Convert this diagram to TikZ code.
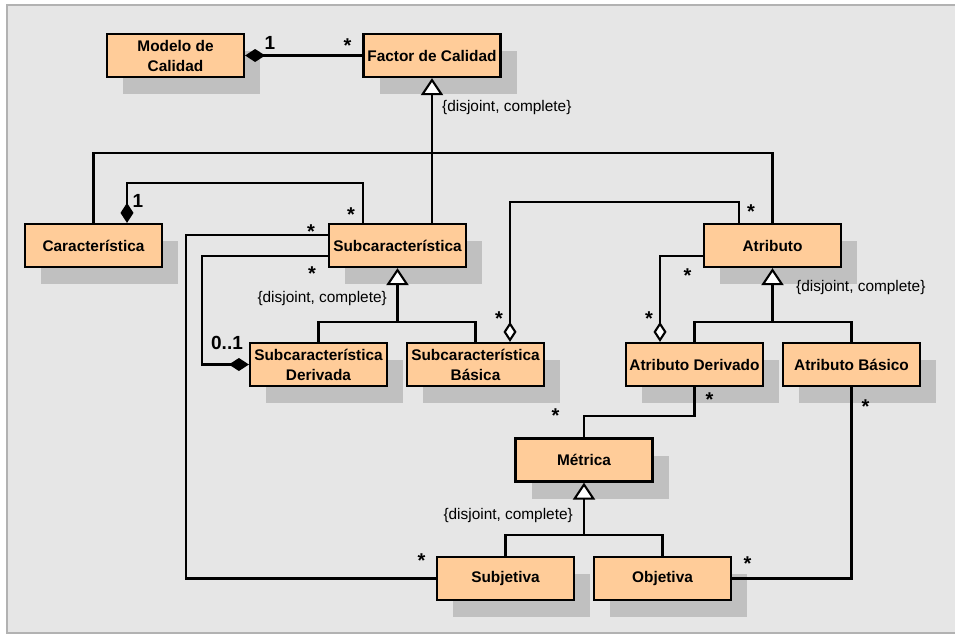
\documentclass[tikz,border=0pt]{standalone}
\usepackage{fontspec}
\setmainfont{Liberation Sans}
\usetikzlibrary{arrows.meta,shadows}

\definecolor{canvasgray}{RGB}{230,230,230}
\definecolor{framegray}{RGB}{178,178,178}
\definecolor{shadowgray}{RGB}{192,192,192}
\definecolor{classfill}{RGB}{255,204,153}

\tikzset{
  cls/.style={draw=black, line width=2.2pt, fill=classfill,
    minimum width=137pt, minimum height=43pt, inner sep=0pt,
    align=center, font=\bfseries\fontsize{15.4}{20}\selectfont,
    drop shadow={shadow xshift=16pt, shadow yshift=-17pt,
      fill=shadowgray, opacity=1}},
  assoc/.style={line width=2.1pt, black},
  compos/.style={assoc, {Diamond[length=20pt,width=13pt,fill=black]}-},
  compend/.style={assoc, -{Diamond[length=20pt,width=13pt,fill=black]}},
  aggend/.style={assoc, -{Diamond[length=20pt,width=13pt,fill=white]}},
  genarrow/.style={assoc, -{Triangle[length=17pt,width=22pt,fill=white]}},
  mult/.style={font=\bfseries\fontsize{20}{20}\selectfont, anchor=base, inner sep=0pt},
  multnum/.style={font=\bfseries\fontsize{19}{19}\selectfont, anchor=base, inner sep=0pt},
  constraint/.style={font=\fontsize{15.4}{18}\selectfont, inner sep=0pt},
}

\begin{document}
\begin{tikzpicture}[x=1pt, y=-1pt]
  \useasboundingbox (0,0) rectangle (955,635);
  % canvas
  \fill[white] (0,0) rectangle (955,635);
  \draw[framegray, line width=2pt, fill=canvasgray] (7,5) rectangle (960,633);

  % classes
  \node[cls] (modelo)    at (175.5,55.5) {Modelo de\\Calidad};
  \node[cls] (factor)    at (432,55.5)   {Factor de Calidad};
  \node[cls] (caract)    at (93.5,245.5) {Característica};
  \node[cls] (subc)      at (397.5,245.5){Subcaracterística};
  \node[cls] (atrib)     at (772.5,245.5){Atributo};
  \node[cls] (subcder)   at (318.5,364.5){Subcaracterística\\Derivada};
  \node[cls] (subcbas)   at (475.5,364.5){Subcaracterística\\Básica};
  \node[cls] (atder)     at (694.5,364.5){Atributo Derivado};
  \node[cls] (atbas)     at (851.5,364.5){Atributo Básico};
  \node[cls] (metrica)   at (584,460)    {Métrica};
  \node[cls] (subjetiva) at (505.5,578.5){Subjetiva};
  \node[cls] (objetiva)  at (662.5,578.5){Objetiva};

  % routing levels and columns
  \coordinate (Lfac) at (0,153);
  \coordinate (Lcar) at (0,183);
  \coordinate (Lbas) at (0,202);
  \coordinate (Lgen) at (0,322);
  \coordinate (Lmet) at (0,416);
  \coordinate (Lsub) at (0,535);
  \coordinate (Cout) at (186,0);
  \coordinate (Cin)  at (202,0);
  \coordinate (Cagg) at (660,0);

  % attachment points on the class borders
  \coordinate (carTop)  at ([xshift=33.5pt]caract.north);
  \coordinate (subTopL) at ([xshift=-34.5pt]subc.north);
  \coordinate (subTopR) at (factor.south |- subc.north);
  \coordinate (subWu)   at ([yshift=10.5pt]subc.west);
  \coordinate (subWd)   at ([yshift=-10.5pt]subc.west);
  \coordinate (atrTopL) at ([xshift=-33.5pt]atrib.north);
  \coordinate (atrWd)   at ([yshift=-10.5pt]atrib.west);
  \coordinate (basTop)  at ([xshift=34.5pt]subcbas.north);
  \coordinate (aderTop) at (Cagg |- atder.north);

  % Modelo de Calidad <>-- Factor de Calidad
  \draw[compos] (modelo.east) -- (factor.west);

  % generalization of Factor de Calidad
  \draw[assoc] (caract.north) -- (caract.north |- Lfac) -- (atrib.north |- Lfac) -- (atrib.north);
  \draw[genarrow] (subTopR) -- (factor.south);

  % Característica <>-- Subcaracterística
  \draw[compos] (carTop) -- (carTop |- Lcar) -- (subTopL |- Lcar) -- (subTopL);

  % Subcaracterística -- Subjetiva
  \draw[assoc] (subWu) -- (Cout |- subWu) -- (Cout |- subjetiva.west) -- (subjetiva.west);

  % Subcaracterística -- Subcaracterística Derivada
  \draw[compend] (subWd) -- (Cin |- subWd) -- (Cin |- subcder.west) -- (subcder.west);

  % generalization of Subcaracterística
  \draw[assoc] (subcder.north) -- (subcder.north |- Lgen) -- (subcbas.north |- Lgen) -- (subcbas.north);
  \draw[genarrow] (subc.south |- Lgen) -- (subc.south);

  % Atributo -- Subcaracterística Básica
  \draw[aggend] (atrTopL) -- (atrTopL |- Lbas) -- (basTop |- Lbas) -- (basTop);

  % Atributo -- Atributo Derivado
  \draw[aggend] (atrWd) -- (Cagg |- atrWd) -- (aderTop);

  % generalization of Atributo
  \draw[assoc] (atder.north) -- (atder.north |- Lgen) -- (atbas.north |- Lgen) -- (atbas.north);
  \draw[genarrow] (atrib.south |- Lgen) -- (atrib.south);

  % Atributo Derivado -- Métrica
  \draw[assoc] (atder.south) -- (atder.south |- Lmet) -- (metrica.north |- Lmet) -- (metrica.north);

  % Atributo Básico -- Objetiva
  \draw[assoc] (atbas.south) -- (atbas.south |- objetiva.east) -- (objetiva.east);

  % generalization of Métrica
  \draw[assoc] (subjetiva.north) -- (subjetiva.north |- Lsub) -- (objetiva.north |- Lsub) -- (objetiva.north);
  \draw[genarrow] (metrica.south |- Lsub) -- (metrica.south);

  % constraints
  \node[constraint, anchor=west] (c1) at (442,108) {\{disjoint, complete\}};
  \node[constraint, anchor=east] (c2) at (387,299) {\{disjoint, complete\}};
  \node[constraint, anchor=west] (c3) at (796,288) {\{disjoint, complete\}};
  \node[constraint, anchor=east] (c4) at (573,516) {\{disjoint, complete\}};

  % multiplicities
  \node[multnum] (m1)  at (270,49)  {1};
  \node[mult]    (m2)  at (347.5,52.5) {*};
  \node[multnum] (m3)  at (138,207) {1};
  \node[mult]    (m4)  at (351,221) {*};
  \node[mult]    (m5)  at (311,238.5) {*};
  \node[mult]    (m6)  at (312,280) {*};
  \node[multnum] (m7)  at (227,349) {0..1};
  \node[mult]    (m8)  at (421.5,567) {*};
  \node[mult]    (m9)  at (751,218) {*};
  \node[mult]    (m10) at (687.5,282) {*};
  \node[mult]    (m11) at (499,325) {*};
  \node[mult]    (m12) at (649,325) {*};
  \node[mult]    (m13) at (709.5,406) {*};
  \node[mult]    (m14) at (555.5,422) {*};
  \node[mult]    (m15) at (865.5,413.5) {*};
  \node[mult]    (m16) at (747.5,570) {*};
\end{tikzpicture}
\end{document}
